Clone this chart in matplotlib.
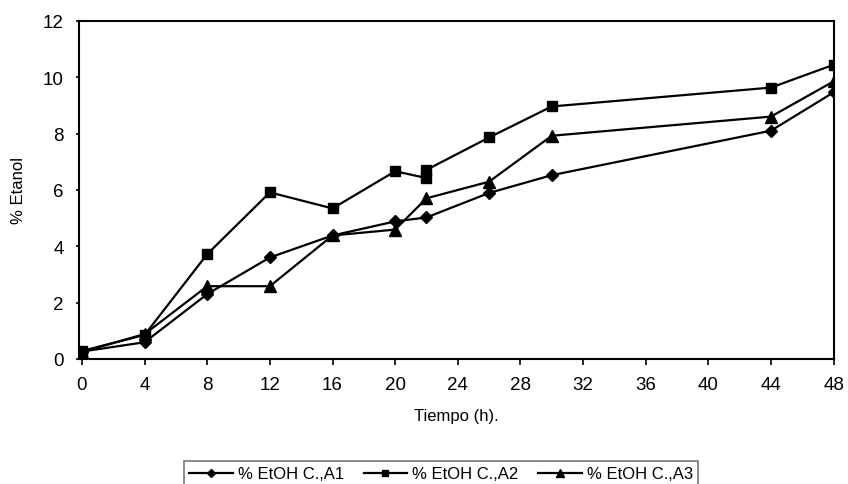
import matplotlib
matplotlib.use("Agg")
import matplotlib.pyplot as plt

plt.rcParams['font.family'] = ['Liberation Sans', 'DejaVu Sans']

# tiempo (h) y % etanol de cada ensayo
tiempo = [0, 4, 8, 12, 16, 20, 22, 26, 30, 44, 48]
etoh_a1 = [0.26, 0.59, 2.3, 3.6, 4.38, 4.88, 5.02, 5.89, 6.52, 8.1, 9.46]
tiempo_a2 = [0, 4, 8, 12, 16, 20, 22, 22, 26, 30, 44, 48]
etoh_a2 = [0.28, 0.85, 3.72, 5.91, 5.34, 6.66, 6.42, 6.71, 7.86, 8.96, 9.63, 10.44]
etoh_a3 = [0.25, 0.88, 2.58, 2.58, 4.38, 4.59, 5.7, 6.29, 7.92, 8.6, 9.85]

labels = ["% EtOH C.,A1", "% EtOH C.,A2", "% EtOH C.,A3"]
xticks = list(range(0, 49, 4))
yticks = list(range(0, 13, 2))

fig = plt.figure(figsize=(8.48, 4.85), dpi=100)
ax = fig.add_axes([0.093, 0.258, 0.89, 0.697])

ax.plot(tiempo, etoh_a1, color='black', lw=1.6, marker='D', ms=6, label=labels[0])
ax.plot(tiempo_a2, etoh_a2, color='black', lw=1.6, marker='s', ms=6.5, label=labels[1])
ax.plot(tiempo, etoh_a3, color='black', lw=1.6, marker='^', ms=8, label=labels[2])

ax.set_xlim(-0.2, 48)
ax.set_ylim(0, 12)
ax.set_xticks(xticks)
ax.set_yticks(yticks)
ax.tick_params(labelsize=13.5, direction='out', length=4, width=1.2, pad=8)
ax.tick_params(axis='y', length=2, pad=9)
for s in ax.spines.values():
    s.set_linewidth(1.5)

ax.set_xlabel("Tiempo (h).", fontsize=12, labelpad=11)
ax.set_ylabel("% Etanol", fontsize=12, labelpad=12)

leg = fig.legend(loc='lower center', bbox_to_anchor=(0.52, -0.022), ncol=3, fontsize=12,
                 frameon=True, fancybox=False, edgecolor='#555555',
                 handlelength=2.6, columnspacing=1.2, handletextpad=0.3,
                 borderpad=0.3, markerscale=0.7)
leg.get_frame().set_linewidth(1.2)

fig.savefig("out.png", dpi=100)
